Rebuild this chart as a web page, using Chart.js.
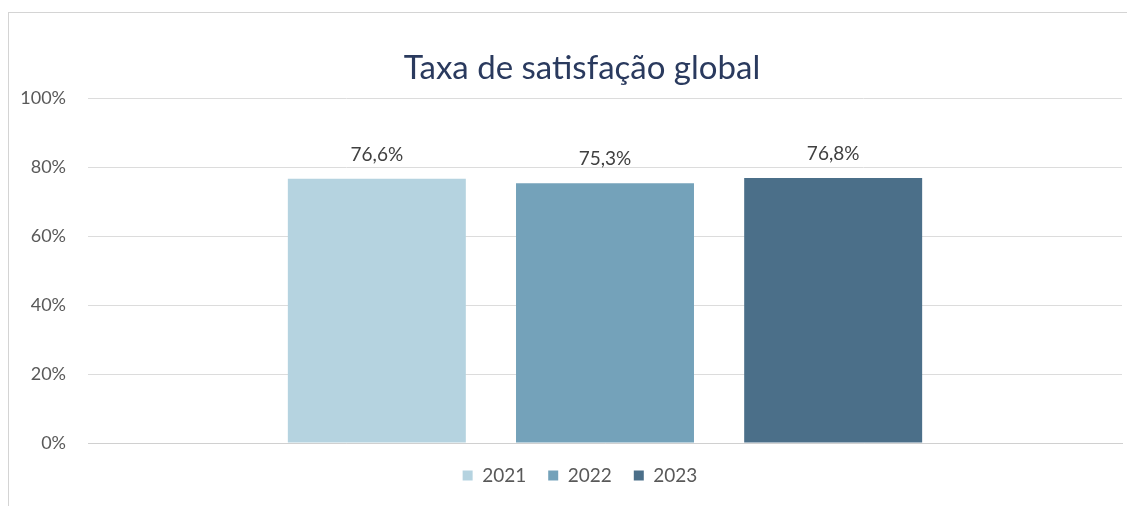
<!DOCTYPE html>
<html>
<head>
<meta charset="utf-8">
<script src="https://cdn.jsdelivr.net/npm/chart.js@4/dist/chart.umd.min.js"></script>
<style>
  html, body { margin: 0; padding: 0; background: #fff; }
  #wrap { position: relative; width: 1127px; height: 506px; }
  #frame { position: absolute; left: 8px; top: 12px; right: -2px; bottom: -2px; border-left: 1px solid #d4d4d4; border-top: 1px solid #d4d4d4; }
  canvas { position: absolute; left: 0; top: 0; }
</style>
</head>
<body>
<div id="wrap">
  <div id="frame"></div>
  <canvas id="chart" width="1127" height="506"></canvas>
</div>
<script>
// Data
const chartTitle = 'Taxa de satisfação global';
const categories = [''];
const years = ['2021', '2022', '2023'];
const values2021 = [76.6];
const values2022 = [75.3];
const values2023 = [76.8];
const yTicks = [0, 20, 40, 60, 80, 100];

const colors = ['#b5d3e0', '#74a2ba', '#4b6f89'];
const fontFamily = 'Lato, "Open Sans", sans-serif';

// Title drawn by hand so it can sit where the original has it
const titleText = {
  id: 'titleText',
  afterDraw(chart) {
    const ctx = chart.ctx;
    ctx.save();
    ctx.font = '33px ' + fontFamily;
    ctx.fillStyle = '#2a3a5e';
    ctx.textAlign = 'center';
    ctx.textBaseline = 'alphabetic';
    ctx.fillText(chartTitle, 582, 79);
    ctx.restore();
  }
};

// Nudge the legend a little (original is centred slightly right, closer to the axis)
const legendNudge = {
  id: 'legendNudge',
  afterLayout(chart) {
    const lg = chart.legend;
    if (!lg) return;
    lg.left += 14; lg.right += 14;
    lg.top -= 7; lg.bottom -= 7;
  }
};

// Value labels above bars
const barLabels = {
  id: 'barLabels',
  afterDatasetsDraw(chart) {
    const ctx = chart.ctx;
    ctx.save();
    ctx.font = '19px ' + fontFamily;
    ctx.fillStyle = '#404040';
    ctx.textAlign = 'center';
    ctx.textBaseline = 'alphabetic';
    chart.data.datasets.forEach((ds, i) => {
      chart.getDatasetMeta(i).data.forEach((bar, j) => {
        const txt = ds.data[j].toFixed(1).replace('.', ',') + '%';
        ctx.fillText(txt, bar.x, bar.y - 18);
      });
    });
    ctx.restore();
  }
};

new Chart(document.getElementById('chart').getContext('2d'), {
  type: 'bar',
  data: {
    labels: categories,
    datasets: [
      { label: years[0], data: values2021, backgroundColor: colors[0] },
      { label: years[1], data: values2022, backgroundColor: colors[1] },
      { label: years[2], data: values2023, backgroundColor: colors[2] }
    ]
  },
  options: {
    responsive: false,
    animation: false,
    categoryPercentage: 0.662,
    barPercentage: 0.78,
    layout: { padding: { left: 10, right: 5, top: 98, bottom: 4 } },
    scales: {
      x: {
        grid: { display: false },
        border: { color: '#d0d0d0' },
        ticks: { display: false }
      },
      y: {
        min: 0,
        max: 100,
        afterBuildTicks: axis => { axis.ticks = yTicks.map(v => ({ value: v })); },
        afterFit: axis => { axis.width = 78; },
        border: { display: false },
        grid: { color: '#dcdcdc', drawTicks: false },
        ticks: {
          padding: 22,
          color: '#595959',
          font: { family: fontFamily, size: 18 },
          callback: v => v + '%'
        }
      }
    },
    plugins: {
      title: { display: false },
      legend: {
        position: 'bottom',
        labels: {
          boxWidth: 10,
          boxHeight: 10,
          padding: 22,
          color: '#595959',
          font: { family: fontFamily, size: 19 }
        }
      },
      tooltip: { enabled: false }
    }
  },
  plugins: [barLabels, titleText, legendNudge]
});
</script>
</body>
</html>
